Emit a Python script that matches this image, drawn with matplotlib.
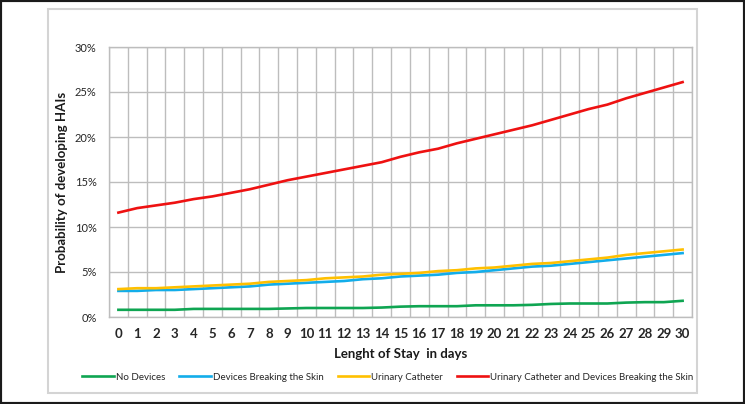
import matplotlib
matplotlib.use("Agg")
import matplotlib.pyplot as plt
from matplotlib.patches import Rectangle
from matplotlib.ticker import MultipleLocator, PercentFormatter

plt.rcParams['font.family'] = ['Lato', 'DejaVu Sans']

# data (percent)
days = list(range(31))
no_devices = [0.8, 0.8, 0.8, 0.8, 0.9, 0.9, 0.9, 0.9, 0.9, 0.95, 1.0, 1.0, 1.0, 1.0, 1.05,
              1.15, 1.2, 1.2, 1.2, 1.3, 1.3, 1.3, 1.35, 1.45, 1.5, 1.5, 1.5, 1.6, 1.65, 1.65, 1.8]
skin_devices = [2.9, 2.9, 3.0, 3.0, 3.1, 3.2, 3.3, 3.4, 3.6, 3.7, 3.8, 3.9, 4.0, 4.2, 4.3,
                4.5, 4.6, 4.7, 4.9, 5.0, 5.2, 5.4, 5.6, 5.7, 5.9, 6.1, 6.3, 6.5, 6.7, 6.9, 7.1]
urinary = [3.1, 3.2, 3.2, 3.3, 3.4, 3.5, 3.6, 3.7, 3.9, 4.0, 4.1, 4.3, 4.4, 4.5, 4.7,
           4.8, 4.9, 5.1, 5.2, 5.4, 5.5, 5.7, 5.9, 6.0, 6.2, 6.4, 6.6, 6.9, 7.1, 7.3, 7.5]
urinary_skin = [11.6, 12.1, 12.4, 12.7, 13.1, 13.4, 13.8, 14.2, 14.7, 15.2, 15.6, 16.0, 16.4, 16.8, 17.2,
                17.8, 18.3, 18.7, 19.3, 19.8, 20.3, 20.8, 21.3, 21.9, 22.5, 23.1, 23.6, 24.3, 24.9, 25.5, 26.1]

series = [
    ("No Devices", no_devices, "#0FA552"),
    ("Devices Breaking the Skin", skin_devices, "#12ADEA"),
    ("Urinary Catheter", urinary, "#FFC000"),
    ("Urinary Catheter and Devices Breaking the Skin", urinary_skin, "#EE1111"),
]

fig = plt.figure(figsize=(7.45, 4.04), dpi=100)

# outer dark frame and inner light panel border
fig.patches.append(Rectangle((0, 0), 1, 1, transform=fig.transFigure,
                             fill=False, edgecolor="#1a1a1a", linewidth=3))
fig.patches.append(Rectangle((48 / 745, 1 - 393 / 404), 649 / 745, 384 / 404,
                             transform=fig.transFigure, fill=False,
                             edgecolor="#d4d4d4", linewidth=1.5))

ax = fig.add_axes([109 / 745, 1 - 317 / 404, 583 / 745, 270 / 404])

for name, vals, col in series:
    ax.plot(days, vals, color=col, linewidth=1.9, label=name, zorder=3)

ax.set_xlim(-0.5, 30.5)
ax.set_ylim(0, 30)
ax.set_xticks(days)
ax.set_xticklabels([str(d) for d in days], fontsize=9.5, fontweight="bold", color="#262626")
ax.xaxis.set_minor_locator(MultipleLocator(0.5))
ax.yaxis.set_major_locator(MultipleLocator(5))
ax.yaxis.set_major_formatter(PercentFormatter(xmax=100, decimals=0))
ax.tick_params(axis="y", labelsize=8, colors="#262626", length=0, pad=9)
ax.tick_params(axis="x", which="both", length=0, pad=8)

# gridlines: every half category vertically, every 5% horizontally
ax.grid(visible=True, axis="x", which="minor", color="#bdbdbd", linewidth=1)
ax.grid(visible=True, axis="y", which="major", color="#bdbdbd", linewidth=1)
ax.set_axisbelow(True)
for s in ax.spines.values():
    s.set_color("#bdbdbd")
    s.set_linewidth(1)

ax.set_ylabel("Probability of developing HAIs", fontsize=9.5, fontweight="bold",
              color="#1a1a1a", labelpad=5)
ax.set_xlabel("Lenght of Stay  in days", fontsize=9.5, fontweight="bold",
              color="#1a1a1a", labelpad=6)

ax.legend(loc="center", bbox_to_anchor=(388 / 745, 1 - 377 / 404),
          bbox_transform=fig.transFigure, ncol=4, frameon=False,
          fontsize=7, handlelength=3.2, handletextpad=0.2, columnspacing=1.5,
          labelcolor="#262626")

fig.savefig("out.png", dpi=100)
